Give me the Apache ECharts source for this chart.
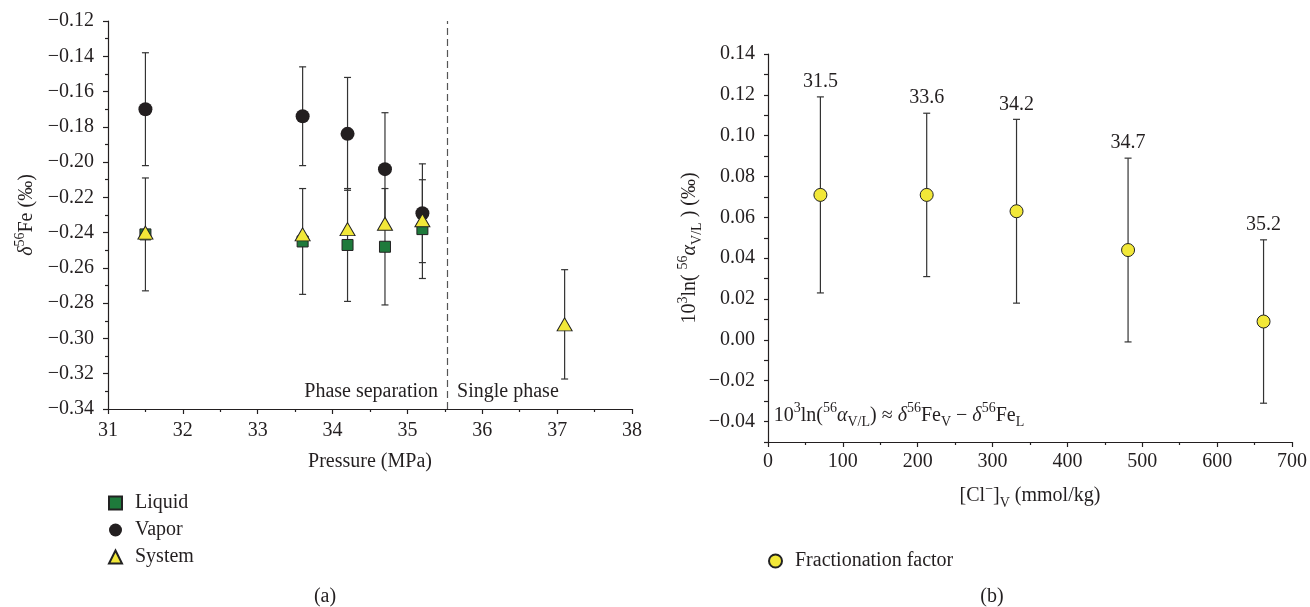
<!DOCTYPE html>
<html>
<head>
<meta charset="utf-8">
<script src="https://cdn.jsdelivr.net/npm/echarts@6/dist/echarts.min.js"></script>
<style>
html,body{margin:0;padding:0;background:#fff;}
#chart{width:1310px;height:607px;}
</style>
</head>
<body>
<div id="chart"></div>
<script>
// ---- Data: panel (a) ----
const pressure = [31.5, 33.6, 34.2, 34.7, 35.2];
const liquid = [-0.241, -0.245, -0.247, -0.248, -0.238];
const liquidErr = [0.032, 0.030, 0.032, 0.033, 0.028];
const vapor = [-0.170, -0.174, -0.184, -0.204, -0.229];
const vaporErr = [0.032, 0.028, 0.032, 0.032, 0.028];
const systemPressure = [31.5, 33.6, 34.2, 34.7, 35.2, 37.1];
const system = [-0.240, -0.241, -0.238, -0.235, -0.233, -0.292];
const systemErr = [null, null, null, null, null, 0.031];
const dividerPressure = [35.53];
const regionLabels = ['Phase separation', 'Single phase'];
const regionLabelY = [-0.33];

// ---- Data: panel (b) ----
const chloride = [70, 212, 332, 481, 662];
const fracFactor = [0.071, 0.071, 0.063, 0.044, 0.009];
const fracErr = [0.048, 0.040, 0.045, 0.045, 0.040];
const pointLabels = ['31.5', '33.6', '34.2', '34.7', '35.2'];
const formulaPos = [5, -0.037];

const FONT = '"Liberation Serif", "DejaVu Serif", serif';
const INK = '#231f20';
const GREEN = '#1e7a3b';
const YELLOW = '#f2e838';
const FS = 20;

function richSet(size) {
  return {
    n: {fontSize: size, fontFamily: FONT, color: INK, lineHeight: 28},
    i: {fontSize: size, fontFamily: FONT, color: INK, fontStyle: 'italic', lineHeight: 28},
    sup: {fontSize: 14, fontFamily: FONT, color: INK, lineHeight: 16, verticalAlign: 'top'},
    sub: {fontSize: 14, fontFamily: FONT, color: INK, lineHeight: 16, verticalAlign: 'bottom'}
  };
}

function errData(xs, ys, es) {
  const out = [];
  for (let k = 0; k < xs.length; k++) {
    if (es[k] == null) continue;
    out.push([xs[k], ys[k] - es[k], ys[k] + es[k]]);
  }
  return out;
}

function errRender(params, api) {
  const x = api.value(0), lo = api.value(1), hi = api.value(2);
  const pt = api.coord([x, hi]);
  const pb = api.coord([x, lo]);
  const cw = 3.5;
  const st = {stroke: '#333', lineWidth: 1.2};
  return {
    type: 'group',
    children: [
      {type: 'line', shape: {x1: pt[0], y1: pt[1], x2: pb[0], y2: pb[1]}, style: st},
      {type: 'line', shape: {x1: pt[0] - cw, y1: pt[1], x2: pt[0] + cw, y2: pt[1]}, style: st},
      {type: 'line', shape: {x1: pb[0] - cw, y1: pb[1], x2: pb[0] + cw, y2: pb[1]}, style: st}
    ]
  };
}

function fmtNum(v) {
  const r = Math.round(v * 100) / 100;
  const s = Math.abs(r).toFixed(2);
  return (r < 0 ? '\u2212' : '') + s;
}

const axisLineStyle = {onZero: false, lineStyle: {color: INK, width: 1.2}};
const tickLabel = {fontSize: FS, fontFamily: FONT, color: INK};
const textLabel = {fontSize: FS, fontFamily: FONT, color: INK};

const chart = echarts.init(document.getElementById('chart'));
chart.setOption({
  animation: false,
  backgroundColor: '#fff',
  title: [
    {text: '(a)', left: 320, top: 582, textAlign: 'center', textStyle: {fontSize: FS, fontFamily: FONT, color: INK, fontWeight: 'normal'}},
    {text: '(b)', left: 987, top: 582, textAlign: 'center', textStyle: {fontSize: FS, fontFamily: FONT, color: INK, fontWeight: 'normal'}}
  ],
  legend: [
    {
      data: ['Liquid', 'Vapor', 'System'],
      orient: 'vertical', left: 103, top: 488,
      itemWidth: 13, itemHeight: 13, itemGap: 7,
      textStyle: {fontSize: FS, fontFamily: FONT, color: INK, lineHeight: 20, padding: [0, 0, 0, 8]},
      selectedMode: false
    },
    {
      data: ['Fractionation factor'],
      orient: 'vertical', left: 763, top: 546,
      itemWidth: 13, itemHeight: 13,
      textStyle: {fontSize: FS, fontFamily: FONT, color: INK, lineHeight: 20, padding: [0, 0, 0, 8]},
      selectedMode: false
    }
  ],
  grid: [
    {left: 108, right: 678, top: 21, bottom: 198},
    {left: 768, right: 17, top: 54, bottom: 165}
  ],
  xAxis: [
    {
      gridIndex: 0, type: 'value', min: 31, max: 38, interval: 1,
      name: 'Pressure (MPa)', nameLocation: 'middle', nameGap: 43,
      nameTextStyle: textLabel,
      axisLine: axisLineStyle,
      axisTick: {length: 5, lineStyle: {color: INK, width: 1.2}},
      minorTick: {show: true, splitNumber: 2, length: 3, lineStyle: {color: INK, width: 1.2}},
      axisLabel: Object.assign({margin: 12}, tickLabel),
      splitLine: {show: false}
    },
    {
      gridIndex: 1, type: 'value', min: 0, max: 700, interval: 100,
      name: '{n|[Cl}{sup|\u2212}{n|]}{sub|V}{n| (mmol/kg)}', nameLocation: 'middle', nameGap: 40,
      nameTextStyle: {rich: richSet(FS)},
      axisLine: axisLineStyle,
      axisTick: {length: 5, lineStyle: {color: INK, width: 1.2}},
      minorTick: {show: true, splitNumber: 2, length: 3, lineStyle: {color: INK, width: 1.2}},
      axisLabel: Object.assign({margin: 10}, tickLabel),
      splitLine: {show: false}
    }
  ],
  yAxis: [
    {
      gridIndex: 0, type: 'value', min: -0.34, max: -0.12, interval: 0.02,
      name: '{i|\u03b4}{sup|56}{n|Fe (\u2030)}', nameLocation: 'middle', nameGap: 67,
      nameTextStyle: {rich: richSet(FS)},
      axisLine: axisLineStyle,
      axisTick: {length: 5, lineStyle: {color: INK, width: 1.2}},
      minorTick: {show: true, splitNumber: 2, length: 3, lineStyle: {color: INK, width: 1.2}},
      axisLabel: Object.assign({margin: 14, formatter: fmtNum}, tickLabel),
      splitLine: {show: false}
    },
    {
      gridIndex: 1, type: 'value', min: -0.05, max: 0.14, interval: 0.01,
      name: '{n|10}{sup|3}{n|ln( }{sup|56}{i|\u03b1}{sub|V/L}{n| ) (\u2030)}', nameLocation: 'middle', nameGap: 64,
      nameTextStyle: {rich: richSet(FS)},
      axisLine: axisLineStyle,
      axisTick: {length: 4, lineStyle: {color: INK, width: 1.2}},
      axisLabel: Object.assign({
        margin: 13,
        formatter: function (v) {
          const k = Math.round(v * 100);
          return (k % 2 === 0) ? fmtNum(v) : '';
        }
      }, tickLabel),
      splitLine: {show: false}
    }
  ],
  series: [
    {name: 'liqErr', type: 'custom', xAxisIndex: 0, yAxisIndex: 0, renderItem: errRender,
     encode: {x: 0, y: [1, 2]}, data: errData(pressure, liquid, liquidErr), z: 1},
    {name: 'vapErr', type: 'custom', xAxisIndex: 0, yAxisIndex: 0, renderItem: errRender,
     encode: {x: 0, y: [1, 2]}, data: errData(pressure, vapor, vaporErr), z: 1},
    {name: 'sysErr', type: 'custom', xAxisIndex: 0, yAxisIndex: 0, renderItem: errRender,
     encode: {x: 0, y: [1, 2]}, data: errData(systemPressure, system, systemErr), z: 1},
    {name: 'Liquid', type: 'scatter', xAxisIndex: 0, yAxisIndex: 0, symbol: 'rect', symbolSize: 11,
     itemStyle: {color: GREEN, borderColor: '#222', borderWidth: 1, opacity: 1},
     data: pressure.map((p, k) => [p, liquid[k]]), z: 3},
    {name: 'Vapor', type: 'scatter', xAxisIndex: 0, yAxisIndex: 0, symbol: 'circle', symbolSize: 14,
     itemStyle: {color: INK, opacity: 1},
     data: pressure.map((p, k) => [p, vapor[k]]), z: 4},
    {name: 'System', type: 'scatter', xAxisIndex: 0, yAxisIndex: 0, symbol: 'triangle', symbolSize: [15, 13],
     itemStyle: {color: YELLOW, borderColor: '#222', borderWidth: 1, opacity: 1},
     data: systemPressure.map((p, k) => [p, system[k]]), z: 5},
    {name: 'divider', type: 'line', xAxisIndex: 0, yAxisIndex: 0, data: [], silent: true,
     markLine: {symbol: 'none', silent: true, label: {show: false},
       lineStyle: {color: '#555', type: [7, 4], width: 1.2},
       data: dividerPressure.map(p => ({xAxis: p}))}},
    {name: 'regionL', type: 'scatter', xAxisIndex: 0, yAxisIndex: 0, symbolSize: 0, silent: true,
     itemStyle: {opacity: 1},
     data: [[dividerPressure[0], regionLabelY[0]]],
     label: Object.assign({show: true, position: 'left', distance: 9, formatter: regionLabels[0]}, textLabel)},
    {name: 'regionR', type: 'scatter', xAxisIndex: 0, yAxisIndex: 0, symbolSize: 0, silent: true,
     itemStyle: {opacity: 1},
     data: [[dividerPressure[0], regionLabelY[0]]],
     label: Object.assign({show: true, position: 'right', distance: 10, formatter: regionLabels[1]}, textLabel)},

    {name: 'fracErr', type: 'custom', xAxisIndex: 1, yAxisIndex: 1, renderItem: errRender,
     encode: {x: 0, y: [1, 2]}, data: errData(chloride, fracFactor, fracErr), z: 1},
    {name: 'Fractionation factor', type: 'scatter', xAxisIndex: 1, yAxisIndex: 1, symbol: 'circle', symbolSize: 13,
     itemStyle: {color: YELLOW, borderColor: '#222', borderWidth: 1, opacity: 1},
     data: chloride.map((c, k) => [c, fracFactor[k]]), z: 3},
    {name: 'pointLabels', type: 'scatter', xAxisIndex: 1, yAxisIndex: 1, symbolSize: 0, silent: true,
     itemStyle: {opacity: 1},
     data: chloride.map((c, k) => [c, fracFactor[k] + fracErr[k], pointLabels[k]]),
     label: Object.assign({show: true, position: 'top', distance: 5, formatter: p => p.value[2]}, textLabel)},
    {name: 'formula', type: 'scatter', xAxisIndex: 1, yAxisIndex: 1, symbolSize: 0, silent: true,
     itemStyle: {opacity: 1},
     data: [formulaPos],
     label: {show: true, position: 'right', distance: 2,
       formatter: '{n|10}{sup|3}{n|ln(}{sup|56}{i|\u03b1}{sub|V/L}{n|) \u2248 }{i|\u03b4}{sup|56}{n|Fe}{sub|V}{n| \u2212 }{i|\u03b4}{sup|56}{n|Fe}{sub|L}',
       rich: richSet(FS)}}
  ]
});
</script>
</body>
</html>
